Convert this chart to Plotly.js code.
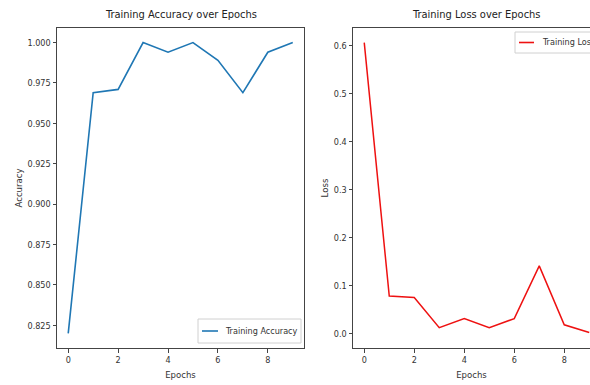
<!DOCTYPE html>
<html>
<head>
<meta charset="utf-8">
<script src="https://cdn.plot.ly/plotly-3.0.1.min.js"></script>
<style>html,body{margin:0;padding:0;overflow:hidden;background:#fff;width:590px;height:385px}</style>
</head>
<body>
<div id="chart"></div>
<script>
const epochs = [0,1,2,3,4,5,6,7,8,9];
const accuracy = [0.820,0.969,0.971,1.000,0.994,1.000,0.989,0.969,0.994,1.000];
const loss = [0.607,0.078,0.075,0.012,0.031,0.012,0.031,0.141,0.018,0.002];
const xTicks = [0,2,4,6,8];
const accTicks = [0.825,0.850,0.875,0.900,0.925,0.950,0.975,1.000];
const lossTicks = [0.0,0.1,0.2,0.3,0.4,0.5,0.6];
const seriesNames = ['Training Accuracy', 'Training Loss'];
const seriesColors = ['#1f77b4', '#ee1111'];

const W = 590, H = 385;
const FONT = '"DejaVu Sans Condensed", "Liberation Sans Narrow", sans-serif';
const txt = '#333';
const pxPerEpoch = (600.5-353)/9.9;
// plot area: top 28px, bottom 348px
const py = p => (348-p)/320;

function axisBase(){
  return {showline:true, mirror:true, linecolor:'#444', linewidth:1, ticks:'outside', ticklen:3.5, tickwidth:1, tickcolor:'#444',
    showgrid:false, zeroline:false, automargin:false, tickfont:{family:FONT,size:9,color:txt}};
}

const traces = [
  {x:epochs, y:accuracy, type:'scatter', mode:'lines', name:seriesNames[0], line:{color:seriesColors[0], width:1.6}, xaxis:'x', yaxis:'y', showlegend:false},
  {x:epochs, y:loss, type:'scatter', mode:'lines', name:seriesNames[1], line:{color:seriesColors[1], width:1.5}, xaxis:'x2', yaxis:'y2', showlegend:false}
];

function legendBox(x0, x1, yTop, yBot){
  return {type:'rect', xref:'paper', yref:'paper', x0:x0/W, x1:x1/W, y0:py(yBot), y1:py(yTop), line:{color:'#d0d0d0', width:1}, fillcolor:'rgba(255,255,255,0.8)', layer:'above'};
}
function legendLine(x0, x1, y, color){
  return {type:'line', xref:'paper', yref:'paper', x0:x0/W, x1:x1/W, y0:py(y), y1:py(y), line:{color:color, width:1.6}, layer:'above'};
}
function legendText(x, y, text){
  return {text:text, xref:'paper', yref:'paper', x:x/W, y:py(y), xanchor:'left', yanchor:'middle', showarrow:false, font:{family:FONT,size:9,color:txt}};
}

const layout = {
  width:W, height:H,
  margin:{l:0,r:0,t:28,b:37,autoexpand:false},
  paper_bgcolor:'#fff', plot_bgcolor:'#fff',
  font:{family:FONT, color:txt},
  showlegend:false,
  xaxis:Object.assign(axisBase(), {domain:[57/W,304/W], range:[-0.45,9.45], tickvals:xTicks, ticktext:xTicks.map(String),
    title:{text:'Epochs', font:{family:FONT,size:9.5,color:txt}, standoff:7}, anchor:'y'}),
  yaxis:Object.assign(axisBase(), {range:[0.811,1.009], tickvals:accTicks, ticktext:accTicks.map(v=>v.toFixed(3)),
    title:{text:'Accuracy', font:{family:FONT,size:9.5,color:txt}, standoff:3}, anchor:'x'}),
  xaxis2:Object.assign(axisBase(), {domain:[353/W,1], range:[-0.45,-0.45+(W-353)/pxPerEpoch], tickvals:xTicks, ticktext:xTicks.map(String),
    title:{text:'Epochs', font:{family:FONT,size:9.5,color:txt}, standoff:7}, anchor:'y2'}),
  yaxis2:Object.assign(axisBase(), {mirror:false, range:[-0.0304,0.6374], tickvals:lossTicks, ticktext:lossTicks.map(v=>v.toFixed(1)),
    title:{text:'Loss', font:{family:FONT,size:9.5,color:txt}, standoff:3}, anchor:'x2'}),
  shapes:[
    legendBox(198, 301, 319, 343),
    legendLine(202, 218, 331, seriesColors[0]),
    // loss legend is clipped at the right edge like the reference
    legendBox(515, 610, 32, 53),
    legendLine(519, 534, 42.5, seriesColors[1])
  ],
  annotations:[
    {text:'Training Accuracy over Epochs', xref:'paper', yref:'paper', x:(57+304)/2/W, y:1, yshift:5, xanchor:'center', yanchor:'bottom', showarrow:false, font:{family:FONT,size:11,color:'#222'}},
    {text:'Training Loss over Epochs', xref:'paper', yref:'paper', x:(353+600.5)/2/W, y:1, yshift:5, xanchor:'center', yanchor:'bottom', showarrow:false, font:{family:FONT,size:11,color:'#222'}},
    legendText(223, 331, seriesNames[0]),
    legendText(540, 42.5, seriesNames[1])
  ]
};

Plotly.newPlot('chart', traces, layout, {staticPlot:true, displayModeBar:false});
</script>
</body>
</html>
